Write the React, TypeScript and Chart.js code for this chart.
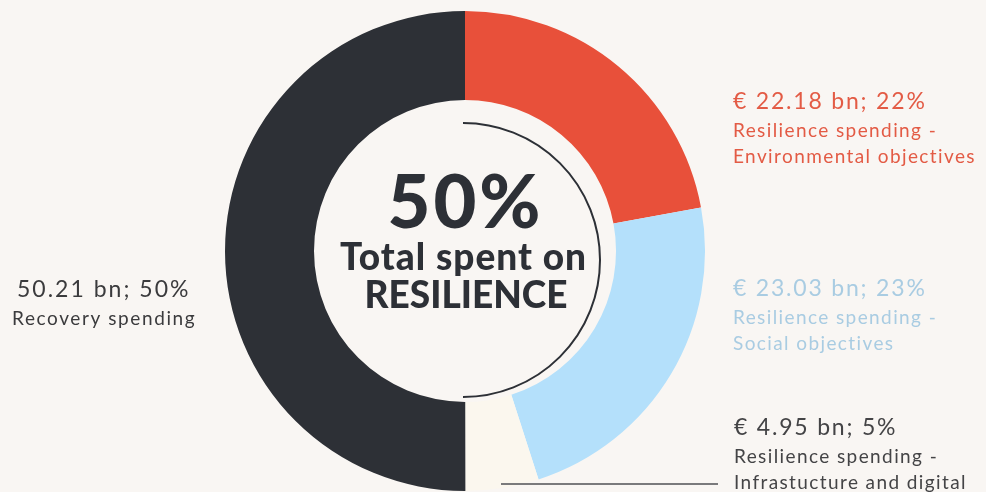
import React, { useEffect, useRef } from "react";
import { Chart, registerables } from "chart.js";

Chart.register(...registerables);

const categories = [
  "Resilience spending - Environmental objectives",
  "Resilience spending - Social objectives",
  "Resilience spending - Infrastucture and digital",
  "Recovery spending",
];
const valuesBn = [22.18, 23.03, 4.95, 50.21];
const percentLabels = ["22%", "23%", "5%", "50%"];
const headLines = ["€ 22.18 bn; 22%", "€ 23.03 bn; 23%", "€ 4.95 bn; 5%", "50.21 bn; 50%"];
const subLines = [
  ["Resilience spending -", "Environmental objectives"],
  ["Resilience spending -", "Social objectives"],
  ["Resilience spending -", "Infrastucture and digital"],
  ["Recovery spending"],
];
const centerLines = ["50%", "Total spent on", "RESILIENCE"];

const BG = "#f9f6f3";
const colors = ["#e8503a", "#b4e0fb", "#fbf7ee", "#2d3036"];
const textColors = ["#e35b45", "#a9cce2", "#444446", "#3b3b3d"];

const FONT = "Lato, 'Noto Sans', sans-serif";

const overlay = {
  id: "overlay",
  afterDatasetsDraw(chart: any) {
    const ctx = chart.ctx as any;
    const meta = chart.getDatasetMeta(0);
    const arc = meta.data[0];
    const cx = arc.x;
    const cy = arc.y;
    ctx.save();
    // inner half arc
    ctx.beginPath();
    ctx.strokeStyle = "#2d3036";
    ctx.lineWidth = 2;
    ctx.arc(cx - 2, cy + 9, 137, -Math.PI / 2, Math.PI / 2, false);
    ctx.stroke();
    // leader line
    ctx.beginPath();
    ctx.strokeStyle = "#7a7a7c";
    ctx.lineWidth = 2;
    ctx.moveTo(cx + 36, cy + 233);
    ctx.lineTo(cx + 253, cy + 233);
    ctx.stroke();

    // center text
    ctx.fillStyle = "#2d3036";
    ctx.textAlign = "center";
    ctx.textBaseline = "alphabetic";
    ctx.font = `900 74px ${FONT}`;
    ctx.letterSpacing = "3px";
    ctx.fillText(centerLines[0], cx - 1 + 1.5, 228);
    ctx.font = `900 37px ${FONT}`;
    ctx.letterSpacing = "1px";
    ctx.fillText(centerLines[1], cx - 2 + 0.5, 270);
    ctx.letterSpacing = "0px";
    ctx.fillText(centerLines[2], cx + 1, 308);

    // labels
    const pos = [
      { x: 733, y: 109 },
      { x: 733, y: 296 },
      { x: 734, y: 435 },
      { x: 17, y: 297 },
    ];
    ctx.textAlign = "left";
    headLines.forEach((h, i) => {
      ctx.fillStyle = textColors[i];
      ctx.font = `400 23px ${FONT}`;
      ctx.letterSpacing = i === 3 ? "2px" : "1.8px";
      ctx.fillText(h, pos[i].x, pos[i].y);
      ctx.font = `400 19px ${FONT}`;
      ctx.letterSpacing = i === 3 ? "1.6px" : "1.4px";
      subLines[i].forEach((s, j) => {
        ctx.fillText(s, pos[i].x - (i === 3 ? 5 : 0), pos[i].y + 28 + j * 26);
      });
    });
    ctx.letterSpacing = "0px";
    ctx.restore();
  },
};

export default function App() {
  const ref = useRef<HTMLCanvasElement>(null);
  useEffect(() => {
    document.body.style.margin = "0";
    document.body.style.background = BG;
    const chart = new Chart(ref.current!, {
      type: "doughnut",
      data: {
        labels: categories,
        datasets: [
          {
            data: valuesBn,
            backgroundColor: colors,
            borderWidth: 0,
          },
        ],
      },
      options: {
        animation: false,
        responsive: false,
        cutout: 151,
        layout: { padding: { top: 11, bottom: 1, left: 225, right: 281 } },
        plugins: {
          legend: { display: false },
          tooltip: { enabled: false },
        },
      },
      plugins: [overlay],
    });
    return () => chart.destroy();
  }, []);
  return (
    <div style={{ width: 986, height: 492, background: BG, position: "relative" }}>
      <canvas ref={ref} width={986} height={492} style={{ display: "block" }} />
    </div>
  );
}
